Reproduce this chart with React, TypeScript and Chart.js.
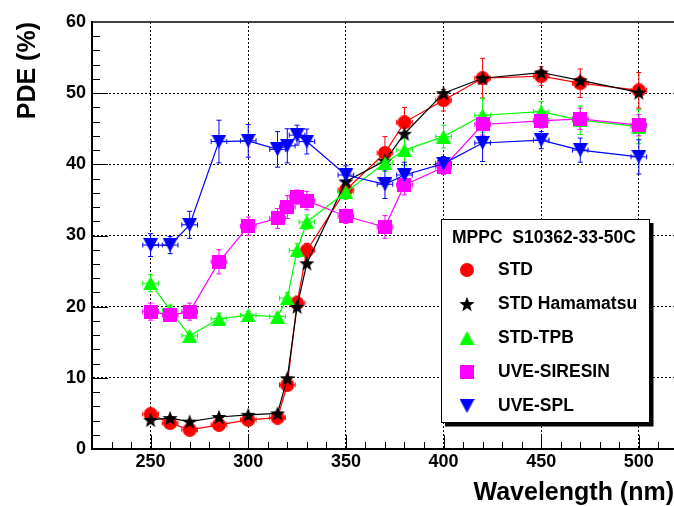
import React, { useEffect, useRef } from 'react';
import { Chart, registerables } from 'chart.js';

Chart.register(...registerables);

const FONT = '"Liberation Sans", Arial, Helvetica, sans-serif';

// ---- data ----
const wavelength = [250, 260, 270, 285, 300, 315, 320, 325, 330, 350, 370, 380, 400, 420, 450, 470, 500];
const wavelengthErr = 4;

const std = [4.9, 3.65, 2.7, 3.4, 4.1, 4.4, 9.0, 20.5, 27.9, 36.4, 41.6, 45.9, 49.0, 52.1, 52.4, 51.4, 50.4];
const stdErr = [0.5, 0.5, 0.5, 0.5, 0.5, 0.5, 0.8, 1.0, 1.0, 1.2, 2.3, 2.1, 1.5, 2.8, 1.3, 2.0, 2.5];

const stdHamamatsu = [4.1, 4.35, 3.85, 4.5, 4.8, 5.0, 9.95, 20.0, 26.1, 37.6, 40.5, 44.3, 50.0, 52.1, 52.9, 51.8, 50.1];

const stdTpb = [23.3, 19.5, 15.9, 18.3, 18.8, 18.6, 21.2, 27.9, 31.9, 36.1, 40.2, 42.0, 43.9, 46.9, 47.4, 46.2, 45.3];
const stdTpbErr = [1.2, 0.7, 0.5, 0.8, 0.5, 0.5, 0.8, 1.0, 1.0, 1.0, 1.2, 2.2, 1.6, 2.4, 1.4, 2.0, 2.4];

const uveSiresin = [19.3, 18.8, 19.3, 26.3, 31.3, 32.4, 34.0, 35.4, 34.9, 32.7, 31.2, 37.1, 39.6, 45.6, 46.1, 46.4, 45.5];
const uveSiresinErr = [1.2, 0.5, 1.2, 1.7, 1.3, 1.4, 1.6, 1.0, 1.3, 1.0, 1.6, 1.4, 1.0, 1.5, 1.0, 1.5, 1.5];

const uveSpl = [28.65, 28.65, 31.5, 43.2, 43.3, 42.1, 42.6, 44.1, 43.2, 38.5, 37.2, 38.5, 40.1, 43.0, 43.4, 42.0, 41.05];
const uveSplErr = [1.6, 1.2, 1.9, 3.0, 2.3, 2.5, 2.4, 1.4, 1.75, 1.3, 2.0, 1.8, 1.0, 2.6, 1.2, 1.7, 2.4];

const xTickValues = [250, 300, 350, 400, 450, 500];
const xMin = 220;
const xMax = 518;
const xMinorStep = 10;
const yMin = 0;
const yMax = 60;
const yStep = 10;
const yMinorStep = 2;

const legendTitle = 'MPPC  S10362-33-50C';
const xTitle = 'Wavelength (nm)';
const yTitle = 'PDE (%)';

function makeMarker(kind: string, color: string, w: number, h: number) {
  const c = document.createElement('canvas');
  c.width = w;
  c.height = h;
  const g = c.getContext('2d') as CanvasRenderingContext2D;
  g.fillStyle = color;
  g.beginPath();
  if (kind === 'circle') {
    g.arc(w / 2, h / 2, w / 2, 0, Math.PI * 2);
  } else if (kind === 'square') {
    g.rect(0, 0, w, h);
  } else if (kind === 'up') {
    g.moveTo(w / 2, 0);
    g.lineTo(w, h);
    g.lineTo(0, h);
  } else if (kind === 'down') {
    g.moveTo(0, 0);
    g.lineTo(w, 0);
    g.lineTo(w / 2, h);
  } else if (kind === 'star') {
    const R = w / 2;
    const r = R * 0.42;
    const cx = w / 2;
    const cy = (h - R * (1 + Math.cos(Math.PI / 5))) / 2 + R;
    for (let k = 0; k < 10; k++) {
      const rad = k % 2 === 0 ? R : r;
      const a = -Math.PI / 2 + (k * Math.PI) / 5;
      const px = cx + rad * Math.cos(a);
      const py = cy + rad * Math.sin(a);
      if (k === 0) g.moveTo(px, py);
      else g.lineTo(px, py);
    }
  }
  g.closePath();
  g.fill();
  return c;
}

const axisDecor = {
  id: 'axisDecor',
  beforeDatasetsDraw(chart: any) {
    const { ctx, chartArea: a, scales } = chart;
    const x = scales.x;
    const y = scales.y;
    ctx.save();
    ctx.strokeStyle = '#000';
    ctx.lineWidth = 1;
    ctx.beginPath();
    for (let v = xMin + xMinorStep; v < xMax; v += xMinorStep) {
      const px = Math.round(x.getPixelForValue(v)) + 0.5;
      const len = v % 50 === 0 ? 14 : 7;
      ctx.moveTo(px, a.bottom);
      ctx.lineTo(px, a.bottom - len);
    }
    for (let v = yMin + yMinorStep; v < yMax; v += yMinorStep) {
      const py = Math.round(y.getPixelForValue(v)) + 0.5;
      const len = v % yStep === 0 ? 16 : 8;
      ctx.moveTo(a.left, py);
      ctx.lineTo(a.left + len, py);
    }
    ctx.stroke();
    ctx.lineWidth = 1.5;
    ctx.beginPath();
    ctx.moveTo(a.left, a.top);
    ctx.lineTo(a.right, a.top);
    ctx.stroke();
    ctx.restore();
  },
};

const errorBars = {
  id: 'errorBars',
  beforeDatasetsDraw(chart: any) {
    const { ctx, scales } = chart;
    const x = scales.x;
    const y = scales.y;
    const cap = 2.5;
    ctx.save();
    ctx.lineWidth = 1;
    chart.data.datasets.forEach((ds: any) => {
      ctx.strokeStyle = ds.borderColor;
      ctx.beginPath();
      ds.data.forEach((p: any, i: number) => {
        const px = x.getPixelForValue(p.x);
        const py = y.getPixelForValue(p.y);
        if (ds.errY) {
          const e = ds.errY[i];
          const y1 = y.getPixelForValue(p.y + e);
          const y2 = y.getPixelForValue(p.y - e);
          ctx.moveTo(px, y1);
          ctx.lineTo(px, y2);
          ctx.moveTo(px - cap, y1);
          ctx.lineTo(px + cap, y1);
          ctx.moveTo(px - cap, y2);
          ctx.lineTo(px + cap, y2);
        }
        if (ds.errX) {
          const x1 = x.getPixelForValue(p.x - ds.errX);
          const x2 = x.getPixelForValue(p.x + ds.errX);
          ctx.moveTo(x1, py);
          ctx.lineTo(x2, py);
          ctx.moveTo(x1, py - cap);
          ctx.lineTo(x1, py + cap);
          ctx.moveTo(x2, py - cap);
          ctx.lineTo(x2, py + cap);
        }
      });
      ctx.stroke();
    });
    ctx.restore();
  },
};

const legendBox = {
  id: 'legendBox',
  afterDraw(chart: any) {
    const ctx = chart.ctx;
    const bx = 441;
    const by = 219;
    const bw = 208;
    const bh = 203;
    ctx.save();
    ctx.fillStyle = '#000';
    ctx.fillRect(bx + 4, by + 4, bw + 0.5, bh + 0.5);
    ctx.fillStyle = '#fff';
    ctx.fillRect(bx, by, bw, bh);
    ctx.strokeStyle = '#000';
    ctx.lineWidth = 1;
    ctx.strokeRect(bx + 0.5, by + 0.5, bw, bh);
    ctx.fillStyle = '#000';
    ctx.font = `bold 17.5px ${FONT}`;
    ctx.textBaseline = 'middle';
    ctx.textAlign = 'left';
    ctx.fillText(legendTitle, 452, 238);
    chart.data.datasets.forEach((ds: any, i: number) => {
      const yy = 270 + i * 34;
      const img = ds.pointStyle;
      ctx.drawImage(img, 467 - img.width / 2, yy - img.height / 2);
      ctx.fillText(ds.label, 498, yy);
    });
    ctx.restore();
  },
};

export default function App() {
  const ref = useRef<HTMLCanvasElement>(null);

  useEffect(() => {
    const canvas = ref.current as HTMLCanvasElement;
    const series = [
      { label: 'STD', values: std, err: stdErr, errX: wavelengthErr, color: '#ff0000', marker: makeMarker('circle', '#ff0000', 14, 14), order: 5 },
      { label: 'STD Hamamatsu', values: stdHamamatsu, err: null, errX: 0, color: '#000000', marker: makeMarker('star', '#000000', 16, 16), order: 4 },
      { label: 'STD-TPB', values: stdTpb, err: stdTpbErr, errX: wavelengthErr, color: '#00ff00', marker: makeMarker('up', '#00ff00', 15, 14), order: 3 },
      { label: 'UVE-SIRESIN', values: uveSiresin, err: uveSiresinErr, errX: wavelengthErr, color: '#ff00ff', marker: makeMarker('square', '#ff00ff', 14, 14), order: 2 },
      { label: 'UVE-SPL', values: uveSpl, err: uveSplErr, errX: wavelengthErr, color: '#0000ff', marker: makeMarker('down', '#0000ff', 15, 14), order: 1 },
    ];

    const tickFont = { family: FONT, size: 18, weight: 'bold' as const };
    const titleFont = { family: FONT, size: 25, weight: 'bold' as const, lineHeight: 1 };

    const chart = new Chart(canvas, {
      type: 'line',
      data: {
        datasets: series.map((s) => ({
          label: s.label,
          data: wavelength.map((w, i) => ({ x: w, y: s.values[i] })),
          borderColor: s.color,
          backgroundColor: s.color,
          borderWidth: 1.2,
          pointStyle: s.marker,
          pointRadius: 7,
          pointHoverRadius: 7,
          tension: 0,
          order: s.order,
          errY: s.err,
          errX: s.errX,
        })) as any,
      },
      options: {
        animation: false,
        responsive: false,
        devicePixelRatio: 1,
        events: [],
        layout: { autoPadding: false, padding: { top: 22, right: 0, left: 0, bottom: 0 } },
        plugins: {
          legend: { display: false },
          tooltip: { enabled: false },
        },
        scales: {
          x: {
            type: 'linear',
            min: xMin,
            max: xMax,
            afterBuildTicks: (s: any) => {
              s.ticks = xTickValues.map((v) => ({ value: v }));
            },
            afterFit: (s: any) => {
              s.height = 57;
              s.paddingLeft = 0;
              s.paddingRight = 0;
            },
            ticks: { font: tickFont, color: '#000', padding: 2, maxRotation: 0, autoSkip: false },
            grid: { color: '#000', lineWidth: 1, drawTicks: false },
            border: { display: true, color: '#000', width: 2, dash: [2, 2] },
            title: { display: true, text: xTitle, align: 'end', color: '#000', font: titleFont, padding: { top: 0, bottom: 0 } },
          },
          y: {
            type: 'linear',
            min: yMin,
            max: yMax,
            afterFit: (s: any) => {
              s.width = 92;
              s.paddingTop = 0;
              s.paddingBottom = 0;
            },
            ticks: { stepSize: yStep, font: tickFont, color: '#000', padding: 6 },
            grid: {
              color: (c: any) => (c.tick && (c.tick.value === yMin || c.tick.value === yMax) ? 'rgba(0,0,0,0)' : '#000'),
              lineWidth: 1,
              drawTicks: false,
            },
            border: { display: true, color: '#000', width: 2, dash: [2, 2] },
            title: { display: true, text: yTitle, align: 'end', color: '#000', font: titleFont, padding: { top: 16, bottom: 0 } },
          },
        },
      } as any,
      plugins: [axisDecor, errorBars, legendBox],
    });

    return () => chart.destroy();
  }, []);

  return (
    <div style={{ position: 'absolute', left: 0, top: 0, width: 674, height: 506, background: '#fff' }}>
      <canvas ref={ref} width={674} height={506} style={{ display: 'block', width: 674, height: 506 }} />
    </div>
  );
}
